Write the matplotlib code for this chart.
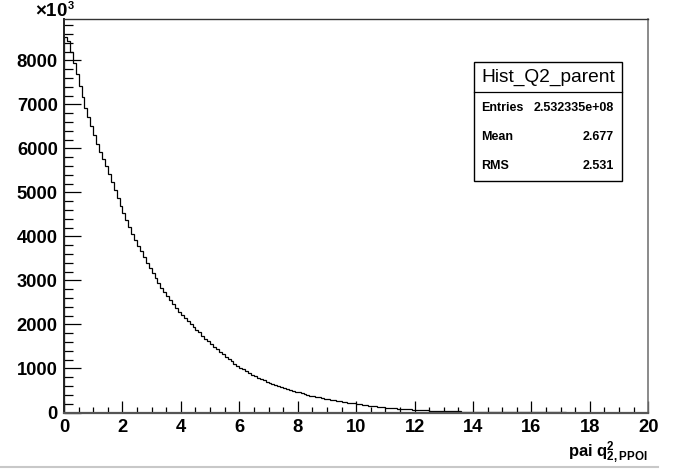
import numpy as np
import matplotlib
matplotlib.use("Agg")
import matplotlib.pyplot as plt
from matplotlib.patches import Rectangle
from matplotlib.lines import Line2D
from matplotlib.ticker import MultipleLocator

plt.rcParams['font.family'] = ['Liberation Sans', 'DejaVu Sans']
plt.rcParams['mathtext.fontset'] = 'custom'
plt.rcParams['mathtext.rm'] = 'Liberation Sans:bold'
plt.rcParams['mathtext.bf'] = 'Liberation Sans:bold'
plt.rcParams['mathtext.it'] = 'Liberation Sans:bold'

# Histogram: 200 bins on [0, 20], counts in units of 10^3
x_min, x_max, n_bins = 0.0, 20.0, 200
counts = [
    8530, 8440, 8200, 7950, 7700, 7420, 7170, 6930, 6720, 6500,
    6300, 6110, 5930, 5760, 5600, 5420, 5240, 5060, 4880, 4700,
    4540, 4380, 4210, 4060, 3920, 3790, 3660, 3530, 3400, 3280,
    3170, 3060, 2950, 2840, 2740, 2640, 2550, 2460, 2380, 2290,
    2210, 2140, 2070, 2000, 1940, 1880, 1820, 1740, 1680, 1620,
    1560, 1490, 1440, 1380, 1320, 1270, 1210, 1160, 1110, 1060,
    1020, 980, 940, 900, 855, 820, 790, 760, 730, 700,
    680, 650, 630, 600, 580, 555, 535, 515, 495, 475,
    455, 435, 418, 400, 385, 370, 355, 342, 328, 315,
    302, 290, 278, 266, 255, 245, 235, 225, 216, 207,
    195, 185, 175, 166, 157, 148, 140, 132, 125, 118,
    111, 105, 99, 93, 88, 83, 78, 73, 69, 65,
    61, 57, 54, 50, 47, 44, 41, 39, 36, 34,
    32, 30, 28, 26, 24, 23, 21, 20, 18, 17,
    16, 15, 14, 13, 12, 11, 10, 9, 9, 8,
    7, 7, 6, 5, 5, 4, 4, 3, 3, 3,
    2, 2, 2, 2, 1, 1, 1, 1, 1, 1,
    1, 1, 0, 0, 0, 0, 0, 0, 0, 0,
    0, 0, 0, 0, 0, 0, 0, 0, 0, 0,
    0, 0, 0, 0, 0, 0, 0, 0, 0, 0,
]
y_max = 8936

stats_title = "Hist_Q2_parent"
stats_labels = ["Entries", "Mean", "RMS"]
stats_values = ["2.532335e+08", "2.677", "2.531"]

W, H = 673, 471
fig = plt.figure(figsize=(W / 100, H / 100), dpi=100)
ax = fig.add_axes([64 / W, 1 - 412.5 / H, (648.3 - 64) / W, (412.5 - 19.3) / H])

edges = np.linspace(x_min, x_max, n_bins + 1)
ax.stairs(counts, edges, color='black', linewidth=0.9, baseline=0)

ax.set_xlim(x_min, x_max)
ax.set_ylim(0, y_max)

ax.xaxis.set_major_locator(MultipleLocator(2))
ax.xaxis.set_minor_locator(MultipleLocator(0.5))
ax.yaxis.set_major_locator(MultipleLocator(1000))
ax.yaxis.set_minor_locator(MultipleLocator(200))

ax.tick_params(axis='x', which='major', direction='in', length=8.5, width=0.9, pad=5,
               labelsize=13.2, top=False, colors='black')
ax.tick_params(axis='x', which='minor', direction='in', length=4.2, width=0.9, top=False)
ax.tick_params(axis='y', which='major', direction='in', length=12.5, width=0.9, pad=4.5,
               labelsize=13.2, right=False)
ax.tick_params(axis='y', which='minor', direction='in', length=6.5, width=0.9, right=False)
for lab in ax.get_xticklabels() + ax.get_yticklabels():
    lab.set_fontweight('bold')

ax.spines['left'].set_color('#222222')
ax.spines['left'].set_linewidth(1.4)
ax.spines['bottom'].set_color('#555555')
ax.spines['bottom'].set_linewidth(1.6)
ax.spines['top'].set_color('#333333')
ax.spines['top'].set_linewidth(1.0)
ax.spines['right'].set_color('#777777')
ax.spines['right'].set_linewidth(1.2)

# x10^3 multiplier at the top-left corner
fig.text(35 / W, 1 - 16.5 / H, r'$\times$10', fontsize=13.5, fontweight='bold',
         ha='left', va='baseline')
fig.text(68 / W, 1 - 1 / H, '3', fontsize=8, fontweight='bold',
         ha='left', va='top')

# axis title
fig.text(648 / W, 1 - 456.7 / H, r'pai q$^{2}_{2,PPOI}$', fontsize=12, fontweight='bold',
         ha='right', va='baseline')

# stats box
bx0, bx1, by0, by1, bsep = 474, 622, 62, 181, 92
fig.add_artist(Rectangle((bx0 / W, 1 - by1 / H), (bx1 - bx0) / W, (by1 - by0) / H,
                         transform=fig.transFigure, facecolor='white', edgecolor='black',
                         linewidth=1.0, zorder=5))
fig.add_artist(Line2D([bx0 / W, bx1 / W], [1 - bsep / H, 1 - bsep / H],
                      transform=fig.transFigure, color='black', linewidth=0.9, zorder=6))
fig.text((bx0 + bx1) / 2 / W, 1 - 77.5 / H, stats_title, fontsize=13.8,
         ha='center', va='center', zorder=7)
row_y = [107.7, 136.7, 165.7]
for lab, val, yy in zip(stats_labels, stats_values, row_y):
    fig.text(481.5 / W, 1 - yy / H, lab, fontsize=9.0, fontweight='bold',
             ha='left', va='center', zorder=7)
    fig.text(614 / W, 1 - yy / H, val, fontsize=9.0, fontweight='bold',
             ha='right', va='center', zorder=7)

# light gray rule at the bottom of the picture
fig.add_artist(Line2D([0, 658 / W], [1 - 467.3 / H, 1 - 467.3 / H],
                      transform=fig.transFigure, color='#c8c8c8', linewidth=1.5))

fig.savefig('out.png', dpi=100)
